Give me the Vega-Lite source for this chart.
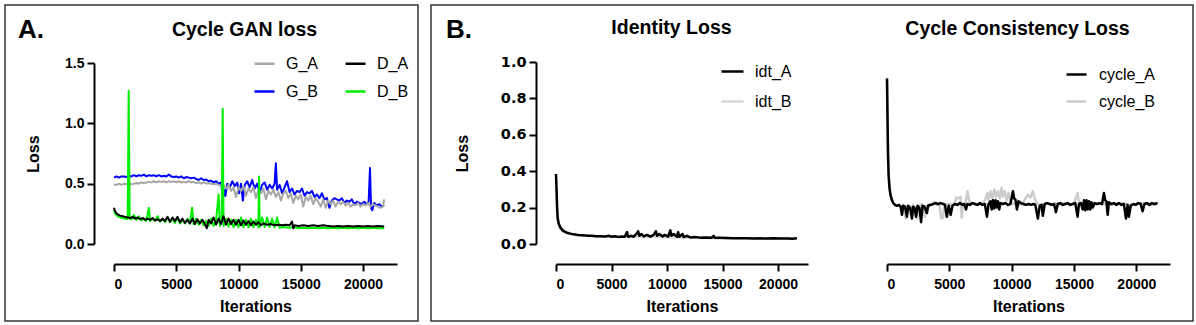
{
"$schema": "https://vega.github.io/schema/vega-lite/v6.json",
"padding": {"left": 4, "top": 4, "right": 0, "bottom": 0},
"autosize": {"type": "pad"},
"background": "white",
"spacing": 13,
"bounds": "flush",
"config": {
  "font": "Liberation Sans",
  "view": {"stroke": "#333333", "strokeWidth": 1.5},
  "axis": {"grid": false, "domainColor": "black", "domainWidth": 2, "tickColor": "black", "tickWidth": 2, "tickSize": 7,
           "labelFont": "Liberation Sans", "labelFontSize": 14, "labelFontWeight": "bold", "labelColor": "black",
           "titleFont": "Liberation Sans", "titleFontSize": 16, "titleFontWeight": "bold", "titleColor": "black"},
  "axisX": {"labelPadding": 6, "titlePadding": 7},
  "axisY": {"labelPadding": 3, "titlePadding": 23},
  "legend": {"labelFont": "Liberation Sans", "labelFontSize": 16, "labelColor": "black", "symbolType": "stroke", "symbolStrokeWidth": 2.5, "padding": 0},
  "title": {"font": "Liberation Sans", "fontWeight": "bold", "color": "black"}
},
"datasets": {
"gan": [
{"s":"G_B","it":0,"loss":0.55},{"s":"G_B","it":200,"loss":0.56},{"s":"G_B","it":400,"loss":0.55},{"s":"G_B","it":600,"loss":0.56},{"s":"G_B","it":800,"loss":0.56},{"s":"G_B","it":1000,"loss":0.555},{"s":"G_B","it":1200,"loss":0.565},{"s":"G_B","it":1400,"loss":0.56},{"s":"G_B","it":1600,"loss":0.57},{"s":"G_B","it":1800,"loss":0.56},{"s":"G_B","it":2000,"loss":0.57},{"s":"G_B","it":2200,"loss":0.565},{"s":"G_B","it":2400,"loss":0.575},{"s":"G_B","it":2600,"loss":0.56},{"s":"G_B","it":2800,"loss":0.57},{"s":"G_B","it":3000,"loss":0.565},{"s":"G_B","it":3200,"loss":0.57},{"s":"G_B","it":3400,"loss":0.56},{"s":"G_B","it":3600,"loss":0.57},{"s":"G_B","it":3800,"loss":0.56},{"s":"G_B","it":4000,"loss":0.565},{"s":"G_B","it":4200,"loss":0.56},{"s":"G_B","it":4400,"loss":0.575},{"s":"G_B","it":4600,"loss":0.56},{"s":"G_B","it":4800,"loss":0.555},{"s":"G_B","it":5000,"loss":0.56},{"s":"G_B","it":5200,"loss":0.55},{"s":"G_B","it":5400,"loss":0.56},{"s":"G_B","it":5600,"loss":0.545},{"s":"G_B","it":5800,"loss":0.555},{"s":"G_B","it":6000,"loss":0.55},{"s":"G_B","it":6200,"loss":0.545},{"s":"G_B","it":6400,"loss":0.55},{"s":"G_B","it":6600,"loss":0.54},{"s":"G_B","it":6800,"loss":0.53},{"s":"G_B","it":7000,"loss":0.545},{"s":"G_B","it":7200,"loss":0.53},{"s":"G_B","it":7400,"loss":0.535},{"s":"G_B","it":7600,"loss":0.52},{"s":"G_B","it":7800,"loss":0.525},{"s":"G_B","it":8000,"loss":0.51},{"s":"G_B","it":8200,"loss":0.52},{"s":"G_B","it":8400,"loss":0.5},{"s":"G_B","it":8600,"loss":0.51},{"s":"G_B","it":8750,"loss":0.37},{"s":"G_B","it":8850,"loss":0.45},{"s":"G_B","it":8950,"loss":0.4},{"s":"G_B","it":9100,"loss":0.5},{"s":"G_B","it":9300,"loss":0.47},{"s":"G_B","it":9500,"loss":0.52},{"s":"G_B","it":9700,"loss":0.48},{"s":"G_B","it":9900,"loss":0.51},{"s":"G_B","it":10050,"loss":0.42},{"s":"G_B","it":10200,"loss":0.5},{"s":"G_B","it":10350,"loss":0.36},{"s":"G_B","it":10500,"loss":0.49},{"s":"G_B","it":10700,"loss":0.52},{"s":"G_B","it":10900,"loss":0.47},{"s":"G_B","it":11100,"loss":0.53},{"s":"G_B","it":11300,"loss":0.46},{"s":"G_B","it":11500,"loss":0.5},{"s":"G_B","it":11700,"loss":0.43},{"s":"G_B","it":11900,"loss":0.49},{"s":"G_B","it":12100,"loss":0.51},{"s":"G_B","it":12300,"loss":0.45},{"s":"G_B","it":12500,"loss":0.49},{"s":"G_B","it":12700,"loss":0.46},{"s":"G_B","it":12900,"loss":0.5},{"s":"G_B","it":13000,"loss":0.67},{"s":"G_B","it":13100,"loss":0.45},{"s":"G_B","it":13300,"loss":0.49},{"s":"G_B","it":13500,"loss":0.42},{"s":"G_B","it":13700,"loss":0.47},{"s":"G_B","it":13900,"loss":0.52},{"s":"G_B","it":14100,"loss":0.43},{"s":"G_B","it":14300,"loss":0.46},{"s":"G_B","it":14500,"loss":0.41},{"s":"G_B","it":14700,"loss":0.44},{"s":"G_B","it":14900,"loss":0.43},{"s":"G_B","it":15100,"loss":0.46},{"s":"G_B","it":15300,"loss":0.4},{"s":"G_B","it":15500,"loss":0.43},{"s":"G_B","it":15700,"loss":0.42},{"s":"G_B","it":15900,"loss":0.44},{"s":"G_B","it":16100,"loss":0.39},{"s":"G_B","it":16300,"loss":0.41},{"s":"G_B","it":16500,"loss":0.38},{"s":"G_B","it":16700,"loss":0.42},{"s":"G_B","it":16900,"loss":0.37},{"s":"G_B","it":17100,"loss":0.38},{"s":"G_B","it":17300,"loss":0.3},{"s":"G_B","it":17500,"loss":0.36},{"s":"G_B","it":17700,"loss":0.38},{"s":"G_B","it":17900,"loss":0.37},{"s":"G_B","it":18100,"loss":0.36},{"s":"G_B","it":18300,"loss":0.38},{"s":"G_B","it":18500,"loss":0.34},{"s":"G_B","it":18700,"loss":0.36},{"s":"G_B","it":18900,"loss":0.35},{"s":"G_B","it":19100,"loss":0.37},{"s":"G_B","it":19300,"loss":0.33},{"s":"G_B","it":19500,"loss":0.35},{"s":"G_B","it":19700,"loss":0.34},{"s":"G_B","it":19900,"loss":0.33},{"s":"G_B","it":20100,"loss":0.35},{"s":"G_B","it":20300,"loss":0.33},{"s":"G_B","it":20450,"loss":0.35},{"s":"G_B","it":20560,"loss":0.63},{"s":"G_B","it":20650,"loss":0.3},{"s":"G_B","it":20750,"loss":0.28},{"s":"G_B","it":20900,"loss":0.34},{"s":"G_B","it":21100,"loss":0.32},{"s":"G_B","it":21300,"loss":0.33},{"s":"G_B","it":21500,"loss":0.31},{"s":"G_B","it":21700,"loss":0.32},
{"s":"G_A","it":0,"loss":0.49},{"s":"G_A","it":200,"loss":0.49},{"s":"G_A","it":400,"loss":0.5},{"s":"G_A","it":600,"loss":0.49},{"s":"G_A","it":800,"loss":0.5},{"s":"G_A","it":1000,"loss":0.495},{"s":"G_A","it":1200,"loss":0.5},{"s":"G_A","it":1400,"loss":0.495},{"s":"G_A","it":1600,"loss":0.5},{"s":"G_A","it":1800,"loss":0.505},{"s":"G_A","it":2000,"loss":0.5},{"s":"G_A","it":2200,"loss":0.51},{"s":"G_A","it":2400,"loss":0.505},{"s":"G_A","it":2600,"loss":0.51},{"s":"G_A","it":2800,"loss":0.515},{"s":"G_A","it":3000,"loss":0.51},{"s":"G_A","it":3200,"loss":0.52},{"s":"G_A","it":3400,"loss":0.51},{"s":"G_A","it":3600,"loss":0.52},{"s":"G_A","it":3800,"loss":0.515},{"s":"G_A","it":4000,"loss":0.52},{"s":"G_A","it":4200,"loss":0.51},{"s":"G_A","it":4400,"loss":0.52},{"s":"G_A","it":4600,"loss":0.515},{"s":"G_A","it":4800,"loss":0.52},{"s":"G_A","it":5000,"loss":0.51},{"s":"G_A","it":5200,"loss":0.52},{"s":"G_A","it":5400,"loss":0.51},{"s":"G_A","it":5600,"loss":0.515},{"s":"G_A","it":5800,"loss":0.51},{"s":"G_A","it":6000,"loss":0.52},{"s":"G_A","it":6200,"loss":0.51},{"s":"G_A","it":6400,"loss":0.515},{"s":"G_A","it":6600,"loss":0.505},{"s":"G_A","it":6800,"loss":0.51},{"s":"G_A","it":7000,"loss":0.5},{"s":"G_A","it":7200,"loss":0.51},{"s":"G_A","it":7400,"loss":0.5},{"s":"G_A","it":7600,"loss":0.505},{"s":"G_A","it":7800,"loss":0.5},{"s":"G_A","it":8000,"loss":0.495},{"s":"G_A","it":8200,"loss":0.5},{"s":"G_A","it":8400,"loss":0.49},{"s":"G_A","it":8600,"loss":0.48},{"s":"G_A","it":8800,"loss":0.49},{"s":"G_A","it":9000,"loss":0.46},{"s":"G_A","it":9200,"loss":0.49},{"s":"G_A","it":9400,"loss":0.44},{"s":"G_A","it":9600,"loss":0.47},{"s":"G_A","it":9800,"loss":0.39},{"s":"G_A","it":10000,"loss":0.47},{"s":"G_A","it":10200,"loss":0.44},{"s":"G_A","it":10400,"loss":0.48},{"s":"G_A","it":10600,"loss":0.4},{"s":"G_A","it":10800,"loss":0.46},{"s":"G_A","it":11000,"loss":0.43},{"s":"G_A","it":11200,"loss":0.47},{"s":"G_A","it":11400,"loss":0.38},{"s":"G_A","it":11600,"loss":0.45},{"s":"G_A","it":11800,"loss":0.42},{"s":"G_A","it":12000,"loss":0.46},{"s":"G_A","it":12200,"loss":0.37},{"s":"G_A","it":12400,"loss":0.44},{"s":"G_A","it":12600,"loss":0.41},{"s":"G_A","it":12800,"loss":0.45},{"s":"G_A","it":13000,"loss":0.39},{"s":"G_A","it":13200,"loss":0.43},{"s":"G_A","it":13400,"loss":0.36},{"s":"G_A","it":13600,"loss":0.42},{"s":"G_A","it":13800,"loss":0.44},{"s":"G_A","it":14000,"loss":0.38},{"s":"G_A","it":14200,"loss":0.42},{"s":"G_A","it":14400,"loss":0.34},{"s":"G_A","it":14600,"loss":0.4},{"s":"G_A","it":14800,"loss":0.37},{"s":"G_A","it":15000,"loss":0.41},{"s":"G_A","it":15200,"loss":0.31},{"s":"G_A","it":15400,"loss":0.39},{"s":"G_A","it":15600,"loss":0.36},{"s":"G_A","it":15800,"loss":0.4},{"s":"G_A","it":16000,"loss":0.33},{"s":"G_A","it":16200,"loss":0.38},{"s":"G_A","it":16400,"loss":0.35},{"s":"G_A","it":16600,"loss":0.31},{"s":"G_A","it":16800,"loss":0.37},{"s":"G_A","it":17000,"loss":0.3},{"s":"G_A","it":17200,"loss":0.36},{"s":"G_A","it":17400,"loss":0.33},{"s":"G_A","it":17600,"loss":0.36},{"s":"G_A","it":17800,"loss":0.31},{"s":"G_A","it":18000,"loss":0.35},{"s":"G_A","it":18200,"loss":0.33},{"s":"G_A","it":18400,"loss":0.35},{"s":"G_A","it":18600,"loss":0.32},{"s":"G_A","it":18800,"loss":0.34},{"s":"G_A","it":19000,"loss":0.31},{"s":"G_A","it":19200,"loss":0.33},{"s":"G_A","it":19400,"loss":0.32},{"s":"G_A","it":19600,"loss":0.34},{"s":"G_A","it":19800,"loss":0.31},{"s":"G_A","it":20000,"loss":0.33},{"s":"G_A","it":20200,"loss":0.32},{"s":"G_A","it":20400,"loss":0.34},{"s":"G_A","it":20600,"loss":0.31},{"s":"G_A","it":20800,"loss":0.33},{"s":"G_A","it":21000,"loss":0.32},{"s":"G_A","it":21200,"loss":0.31},{"s":"G_A","it":21400,"loss":0.3},{"s":"G_A","it":21600,"loss":0.31},{"s":"G_A","it":21700,"loss":0.37},
{"s":"D_B","it":0,"loss":0.28},{"s":"D_B","it":100,"loss":0.25},{"s":"D_B","it":300,"loss":0.23},{"s":"D_B","it":500,"loss":0.22},{"s":"D_B","it":700,"loss":0.215},{"s":"D_B","it":900,"loss":0.21},{"s":"D_B","it":1100,"loss":0.21},{"s":"D_B","it":1180,"loss":1.27},{"s":"D_B","it":1260,"loss":0.21},{"s":"D_B","it":1400,"loss":0.205},{"s":"D_B","it":1600,"loss":0.24},{"s":"D_B","it":1800,"loss":0.2},{"s":"D_B","it":2000,"loss":0.23},{"s":"D_B","it":2200,"loss":0.195},{"s":"D_B","it":2400,"loss":0.215},{"s":"D_B","it":2600,"loss":0.19},{"s":"D_B","it":2800,"loss":0.3},{"s":"D_B","it":2900,"loss":0.19},{"s":"D_B","it":3100,"loss":0.21},{"s":"D_B","it":3300,"loss":0.19},{"s":"D_B","it":3500,"loss":0.23},{"s":"D_B","it":3700,"loss":0.185},{"s":"D_B","it":3900,"loss":0.21},{"s":"D_B","it":4100,"loss":0.18},{"s":"D_B","it":4300,"loss":0.22},{"s":"D_B","it":4500,"loss":0.18},{"s":"D_B","it":4700,"loss":0.21},{"s":"D_B","it":4900,"loss":0.175},{"s":"D_B","it":5100,"loss":0.22},{"s":"D_B","it":5300,"loss":0.17},{"s":"D_B","it":5500,"loss":0.2},{"s":"D_B","it":5700,"loss":0.17},{"s":"D_B","it":5900,"loss":0.21},{"s":"D_B","it":6100,"loss":0.17},{"s":"D_B","it":6270,"loss":0.3},{"s":"D_B","it":6400,"loss":0.165},{"s":"D_B","it":6600,"loss":0.21},{"s":"D_B","it":6800,"loss":0.16},{"s":"D_B","it":7000,"loss":0.2},{"s":"D_B","it":7200,"loss":0.155},{"s":"D_B","it":7400,"loss":0.19},{"s":"D_B","it":7600,"loss":0.15},{"s":"D_B","it":7800,"loss":0.21},{"s":"D_B","it":8000,"loss":0.15},{"s":"D_B","it":8200,"loss":0.2},{"s":"D_B","it":8400,"loss":0.41},{"s":"D_B","it":8500,"loss":0.15},{"s":"D_B","it":8650,"loss":0.2},{"s":"D_B","it":8730,"loss":1.12},{"s":"D_B","it":8800,"loss":0.15},{"s":"D_B","it":9000,"loss":0.21},{"s":"D_B","it":9200,"loss":0.145},{"s":"D_B","it":9400,"loss":0.2},{"s":"D_B","it":9600,"loss":0.14},{"s":"D_B","it":9800,"loss":0.2},{"s":"D_B","it":10000,"loss":0.14},{"s":"D_B","it":10200,"loss":0.22},{"s":"D_B","it":10400,"loss":0.14},{"s":"D_B","it":10600,"loss":0.2},{"s":"D_B","it":10800,"loss":0.14},{"s":"D_B","it":11000,"loss":0.21},{"s":"D_B","it":11200,"loss":0.14},{"s":"D_B","it":11400,"loss":0.2},{"s":"D_B","it":11600,"loss":0.14},{"s":"D_B","it":11650,"loss":0.56},{"s":"D_B","it":11700,"loss":0.14},{"s":"D_B","it":11900,"loss":0.22},{"s":"D_B","it":12100,"loss":0.14},{"s":"D_B","it":12300,"loss":0.22},{"s":"D_B","it":12500,"loss":0.14},{"s":"D_B","it":12700,"loss":0.21},{"s":"D_B","it":12900,"loss":0.14},{"s":"D_B","it":13100,"loss":0.22},{"s":"D_B","it":13300,"loss":0.135},{"s":"D_B","it":13600,"loss":0.14},{"s":"D_B","it":14000,"loss":0.135},{"s":"D_B","it":14400,"loss":0.14},{"s":"D_B","it":14800,"loss":0.13},{"s":"D_B","it":15200,"loss":0.135},{"s":"D_B","it":15600,"loss":0.13},{"s":"D_B","it":16000,"loss":0.135},{"s":"D_B","it":16400,"loss":0.13},{"s":"D_B","it":16800,"loss":0.135},{"s":"D_B","it":17200,"loss":0.13},{"s":"D_B","it":17600,"loss":0.135},{"s":"D_B","it":18000,"loss":0.13},{"s":"D_B","it":18400,"loss":0.135},{"s":"D_B","it":18800,"loss":0.13},{"s":"D_B","it":19200,"loss":0.135},{"s":"D_B","it":19600,"loss":0.13},{"s":"D_B","it":20000,"loss":0.135},{"s":"D_B","it":20400,"loss":0.13},{"s":"D_B","it":20800,"loss":0.135},{"s":"D_B","it":21200,"loss":0.13},{"s":"D_B","it":21700,"loss":0.13},
{"s":"D_A","it":0,"loss":0.3},{"s":"D_A","it":60,"loss":0.28},{"s":"D_A","it":150,"loss":0.26},{"s":"D_A","it":300,"loss":0.245},{"s":"D_A","it":500,"loss":0.235},{"s":"D_A","it":700,"loss":0.23},{"s":"D_A","it":900,"loss":0.225},{"s":"D_A","it":1100,"loss":0.22},{"s":"D_A","it":1300,"loss":0.215},{"s":"D_A","it":1500,"loss":0.225},{"s":"D_A","it":1700,"loss":0.21},{"s":"D_A","it":1900,"loss":0.22},{"s":"D_A","it":2100,"loss":0.205},{"s":"D_A","it":2300,"loss":0.215},{"s":"D_A","it":2500,"loss":0.2},{"s":"D_A","it":2700,"loss":0.21},{"s":"D_A","it":2900,"loss":0.2},{"s":"D_A","it":3100,"loss":0.215},{"s":"D_A","it":3300,"loss":0.195},{"s":"D_A","it":3500,"loss":0.205},{"s":"D_A","it":3700,"loss":0.19},{"s":"D_A","it":3900,"loss":0.21},{"s":"D_A","it":4100,"loss":0.19},{"s":"D_A","it":4300,"loss":0.225},{"s":"D_A","it":4500,"loss":0.185},{"s":"D_A","it":4700,"loss":0.22},{"s":"D_A","it":4900,"loss":0.19},{"s":"D_A","it":5100,"loss":0.225},{"s":"D_A","it":5300,"loss":0.18},{"s":"D_A","it":5500,"loss":0.21},{"s":"D_A","it":5700,"loss":0.175},{"s":"D_A","it":5900,"loss":0.2},{"s":"D_A","it":6100,"loss":0.17},{"s":"D_A","it":6300,"loss":0.21},{"s":"D_A","it":6500,"loss":0.165},{"s":"D_A","it":6700,"loss":0.205},{"s":"D_A","it":6900,"loss":0.17},{"s":"D_A","it":7100,"loss":0.2},{"s":"D_A","it":7300,"loss":0.165},{"s":"D_A","it":7450,"loss":0.13},{"s":"D_A","it":7600,"loss":0.2},{"s":"D_A","it":7800,"loss":0.17},{"s":"D_A","it":8000,"loss":0.22},{"s":"D_A","it":8200,"loss":0.16},{"s":"D_A","it":8400,"loss":0.21},{"s":"D_A","it":8600,"loss":0.165},{"s":"D_A","it":8800,"loss":0.23},{"s":"D_A","it":9000,"loss":0.16},{"s":"D_A","it":9200,"loss":0.21},{"s":"D_A","it":9400,"loss":0.165},{"s":"D_A","it":9600,"loss":0.2},{"s":"D_A","it":9800,"loss":0.16},{"s":"D_A","it":10000,"loss":0.2},{"s":"D_A","it":10200,"loss":0.155},{"s":"D_A","it":10400,"loss":0.195},{"s":"D_A","it":10600,"loss":0.16},{"s":"D_A","it":10800,"loss":0.19},{"s":"D_A","it":11000,"loss":0.155},{"s":"D_A","it":11200,"loss":0.185},{"s":"D_A","it":11400,"loss":0.16},{"s":"D_A","it":11600,"loss":0.18},{"s":"D_A","it":11800,"loss":0.155},{"s":"D_A","it":12000,"loss":0.17},{"s":"D_A","it":12300,"loss":0.16},{"s":"D_A","it":12600,"loss":0.165},{"s":"D_A","it":12900,"loss":0.155},{"s":"D_A","it":13200,"loss":0.16},{"s":"D_A","it":13500,"loss":0.155},{"s":"D_A","it":13800,"loss":0.16},{"s":"D_A","it":14100,"loss":0.155},{"s":"D_A","it":14300,"loss":0.185},{"s":"D_A","it":14400,"loss":0.13},{"s":"D_A","it":14500,"loss":0.155},{"s":"D_A","it":14800,"loss":0.15},{"s":"D_A","it":15200,"loss":0.155},{"s":"D_A","it":15600,"loss":0.15},{"s":"D_A","it":16000,"loss":0.155},{"s":"D_A","it":16400,"loss":0.15},{"s":"D_A","it":16800,"loss":0.155},{"s":"D_A","it":17200,"loss":0.15},{"s":"D_A","it":17600,"loss":0.145},{"s":"D_A","it":18000,"loss":0.15},{"s":"D_A","it":18400,"loss":0.145},{"s":"D_A","it":18800,"loss":0.15},{"s":"D_A","it":19200,"loss":0.145},{"s":"D_A","it":19600,"loss":0.15},{"s":"D_A","it":20000,"loss":0.145},{"s":"D_A","it":20400,"loss":0.15},{"s":"D_A","it":20800,"loss":0.145},{"s":"D_A","it":21200,"loss":0.15},{"s":"D_A","it":21700,"loss":0.145}
],
"idt": [
{"s":"idt_B","it":0,"loss":0.36},{"s":"idt_B","it":100,"loss":0.18},{"s":"idt_B","it":300,"loss":0.1},{"s":"idt_B","it":600,"loss":0.07},{"s":"idt_B","it":1000,"loss":0.058},{"s":"idt_B","it":2000,"loss":0.047},{"s":"idt_B","it":4000,"loss":0.04},{"s":"idt_B","it":6000,"loss":0.038},{"s":"idt_B","it":8000,"loss":0.04},{"s":"idt_B","it":10000,"loss":0.037},{"s":"idt_B","it":12000,"loss":0.034},{"s":"idt_B","it":14000,"loss":0.032},{"s":"idt_B","it":16000,"loss":0.031},{"s":"idt_B","it":18000,"loss":0.032},{"s":"idt_B","it":20000,"loss":0.031},{"s":"idt_B","it":21700,"loss":0.03},
{"s":"idt_A","it":0,"loss":0.385},{"s":"idt_A","it":50,"loss":0.3},{"s":"idt_A","it":100,"loss":0.2},{"s":"idt_A","it":150,"loss":0.14},{"s":"idt_A","it":250,"loss":0.11},{"s":"idt_A","it":400,"loss":0.09},{"s":"idt_A","it":600,"loss":0.075},{"s":"idt_A","it":800,"loss":0.067},{"s":"idt_A","it":1000,"loss":0.062},{"s":"idt_A","it":1300,"loss":0.057},{"s":"idt_A","it":1600,"loss":0.053},{"s":"idt_A","it":2000,"loss":0.05},{"s":"idt_A","it":2400,"loss":0.048},{"s":"idt_A","it":2800,"loss":0.046},{"s":"idt_A","it":3200,"loss":0.045},{"s":"idt_A","it":3600,"loss":0.043},{"s":"idt_A","it":4000,"loss":0.042},{"s":"idt_A","it":4400,"loss":0.041},{"s":"idt_A","it":4800,"loss":0.045},{"s":"idt_A","it":5000,"loss":0.04},{"s":"idt_A","it":5300,"loss":0.043},{"s":"idt_A","it":5600,"loss":0.039},{"s":"idt_A","it":5900,"loss":0.041},{"s":"idt_A","it":6200,"loss":0.04},{"s":"idt_A","it":6400,"loss":0.065},{"s":"idt_A","it":6500,"loss":0.04},{"s":"idt_A","it":6800,"loss":0.045},{"s":"idt_A","it":7000,"loss":0.04},{"s":"idt_A","it":7300,"loss":0.06},{"s":"idt_A","it":7400,"loss":0.07},{"s":"idt_A","it":7500,"loss":0.045},{"s":"idt_A","it":7700,"loss":0.055},{"s":"idt_A","it":7900,"loss":0.042},{"s":"idt_A","it":8200,"loss":0.05},{"s":"idt_A","it":8500,"loss":0.04},{"s":"idt_A","it":8800,"loss":0.05},{"s":"idt_A","it":9000,"loss":0.07},{"s":"idt_A","it":9100,"loss":0.045},{"s":"idt_A","it":9300,"loss":0.055},{"s":"idt_A","it":9600,"loss":0.042},{"s":"idt_A","it":9800,"loss":0.05},{"s":"idt_A","it":10100,"loss":0.04},{"s":"idt_A","it":10300,"loss":0.075},{"s":"idt_A","it":10400,"loss":0.045},{"s":"idt_A","it":10600,"loss":0.055},{"s":"idt_A","it":10900,"loss":0.04},{"s":"idt_A","it":11000,"loss":0.065},{"s":"idt_A","it":11100,"loss":0.04},{"s":"idt_A","it":11400,"loss":0.055},{"s":"idt_A","it":11500,"loss":0.038},{"s":"idt_A","it":11800,"loss":0.045},{"s":"idt_A","it":12100,"loss":0.036},{"s":"idt_A","it":12500,"loss":0.038},{"s":"idt_A","it":13000,"loss":0.035},{"s":"idt_A","it":13500,"loss":0.036},{"s":"idt_A","it":14000,"loss":0.034},{"s":"idt_A","it":14200,"loss":0.045},{"s":"idt_A","it":14300,"loss":0.034},{"s":"idt_A","it":14800,"loss":0.034},{"s":"idt_A","it":15400,"loss":0.033},{"s":"idt_A","it":16000,"loss":0.032},{"s":"idt_A","it":16600,"loss":0.031},{"s":"idt_A","it":17200,"loss":0.032},{"s":"idt_A","it":17800,"loss":0.03},{"s":"idt_A","it":18400,"loss":0.031},{"s":"idt_A","it":19000,"loss":0.03},{"s":"idt_A","it":19600,"loss":0.031},{"s":"idt_A","it":20200,"loss":0.03},{"s":"idt_A","it":20800,"loss":0.03},{"s":"idt_A","it":21300,"loss":0.029},{"s":"idt_A","it":21700,"loss":0.031}
],
"cyc": [
{"s":"cycle_B","it":0,"loss":0.9},{"s":"cycle_B","it":40,"loss":0.68},{"s":"cycle_B","it":80,"loss":0.48},{"s":"cycle_B","it":130,"loss":0.37},{"s":"cycle_B","it":200,"loss":0.3},{"s":"cycle_B","it":300,"loss":0.26},{"s":"cycle_B","it":400,"loss":0.24},{"s":"cycle_B","it":550,"loss":0.22},{"s":"cycle_B","it":700,"loss":0.21},{"s":"cycle_B","it":900,"loss":0.21},{"s":"cycle_B","it":1100,"loss":0.2},{"s":"cycle_B","it":1300,"loss":0.215},{"s":"cycle_B","it":1500,"loss":0.14},{"s":"cycle_B","it":1650,"loss":0.21},{"s":"cycle_B","it":1900,"loss":0.2},{"s":"cycle_B","it":2100,"loss":0.215},{"s":"cycle_B","it":2400,"loss":0.14},{"s":"cycle_B","it":2550,"loss":0.21},{"s":"cycle_B","it":2800,"loss":0.22},{"s":"cycle_B","it":3050,"loss":0.15},{"s":"cycle_B","it":3200,"loss":0.21},{"s":"cycle_B","it":3400,"loss":0.22},{"s":"cycle_B","it":3600,"loss":0.215},{"s":"cycle_B","it":3800,"loss":0.23},{"s":"cycle_B","it":4000,"loss":0.215},{"s":"cycle_B","it":4200,"loss":0.22},{"s":"cycle_B","it":4350,"loss":0.14},{"s":"cycle_B","it":4500,"loss":0.145},{"s":"cycle_B","it":4600,"loss":0.22},{"s":"cycle_B","it":4800,"loss":0.215},{"s":"cycle_B","it":5000,"loss":0.22},{"s":"cycle_B","it":5200,"loss":0.215},{"s":"cycle_B","it":5400,"loss":0.22},{"s":"cycle_B","it":5550,"loss":0.255},{"s":"cycle_B","it":5700,"loss":0.25},{"s":"cycle_B","it":5900,"loss":0.26},{"s":"cycle_B","it":6000,"loss":0.145},{"s":"cycle_B","it":6100,"loss":0.22},{"s":"cycle_B","it":6300,"loss":0.225},{"s":"cycle_B","it":6450,"loss":0.29},{"s":"cycle_B","it":6550,"loss":0.25},{"s":"cycle_B","it":6700,"loss":0.22},{"s":"cycle_B","it":6900,"loss":0.225},{"s":"cycle_B","it":7100,"loss":0.22},{"s":"cycle_B","it":7300,"loss":0.215},{"s":"cycle_B","it":7500,"loss":0.22},{"s":"cycle_B","it":7700,"loss":0.225},{"s":"cycle_B","it":7900,"loss":0.25},{"s":"cycle_B","it":8050,"loss":0.28},{"s":"cycle_B","it":8150,"loss":0.24},{"s":"cycle_B","it":8300,"loss":0.29},{"s":"cycle_B","it":8450,"loss":0.25},{"s":"cycle_B","it":8600,"loss":0.3},{"s":"cycle_B","it":8750,"loss":0.26},{"s":"cycle_B","it":8900,"loss":0.29},{"s":"cycle_B","it":9050,"loss":0.25},{"s":"cycle_B","it":9200,"loss":0.31},{"s":"cycle_B","it":9300,"loss":0.26},{"s":"cycle_B","it":9450,"loss":0.29},{"s":"cycle_B","it":9600,"loss":0.24},{"s":"cycle_B","it":9750,"loss":0.28},{"s":"cycle_B","it":9900,"loss":0.23},{"s":"cycle_B","it":10100,"loss":0.22},{"s":"cycle_B","it":10300,"loss":0.225},{"s":"cycle_B","it":10500,"loss":0.22},{"s":"cycle_B","it":10700,"loss":0.215},{"s":"cycle_B","it":10900,"loss":0.22},{"s":"cycle_B","it":11100,"loss":0.25},{"s":"cycle_B","it":11300,"loss":0.27},{"s":"cycle_B","it":11500,"loss":0.255},{"s":"cycle_B","it":11700,"loss":0.29},{"s":"cycle_B","it":11850,"loss":0.25},{"s":"cycle_B","it":12000,"loss":0.225},{"s":"cycle_B","it":12200,"loss":0.22},{"s":"cycle_B","it":12400,"loss":0.215},{"s":"cycle_B","it":12600,"loss":0.22},{"s":"cycle_B","it":12800,"loss":0.225},{"s":"cycle_B","it":13000,"loss":0.22},{"s":"cycle_B","it":13200,"loss":0.215},{"s":"cycle_B","it":13400,"loss":0.22},{"s":"cycle_B","it":13600,"loss":0.225},{"s":"cycle_B","it":13800,"loss":0.215},{"s":"cycle_B","it":14000,"loss":0.22},{"s":"cycle_B","it":14200,"loss":0.225},{"s":"cycle_B","it":14400,"loss":0.22},{"s":"cycle_B","it":14600,"loss":0.215},{"s":"cycle_B","it":14800,"loss":0.22},{"s":"cycle_B","it":15000,"loss":0.225},{"s":"cycle_B","it":15290,"loss":0.28},{"s":"cycle_B","it":15400,"loss":0.225},{"s":"cycle_B","it":15600,"loss":0.22},{"s":"cycle_B","it":15800,"loss":0.215},{"s":"cycle_B","it":16000,"loss":0.22},{"s":"cycle_B","it":16400,"loss":0.215},{"s":"cycle_B","it":16800,"loss":0.22},{"s":"cycle_B","it":17200,"loss":0.225},{"s":"cycle_B","it":17600,"loss":0.22},{"s":"cycle_B","it":18000,"loss":0.215},{"s":"cycle_B","it":18400,"loss":0.22},{"s":"cycle_B","it":18800,"loss":0.225},{"s":"cycle_B","it":19200,"loss":0.22},{"s":"cycle_B","it":19600,"loss":0.215},{"s":"cycle_B","it":20000,"loss":0.22},{"s":"cycle_B","it":20400,"loss":0.225},{"s":"cycle_B","it":20800,"loss":0.22},{"s":"cycle_B","it":21200,"loss":0.215},{"s":"cycle_B","it":21700,"loss":0.22},
{"s":"cycle_A","it":0,"loss":0.91},{"s":"cycle_A","it":40,"loss":0.7},{"s":"cycle_A","it":80,"loss":0.5},{"s":"cycle_A","it":130,"loss":0.38},{"s":"cycle_A","it":200,"loss":0.31},{"s":"cycle_A","it":280,"loss":0.27},{"s":"cycle_A","it":380,"loss":0.245},{"s":"cycle_A","it":500,"loss":0.225},{"s":"cycle_A","it":650,"loss":0.215},{"s":"cycle_A","it":800,"loss":0.21},{"s":"cycle_A","it":950,"loss":0.215},{"s":"cycle_A","it":1100,"loss":0.205},{"s":"cycle_A","it":1200,"loss":0.16},{"s":"cycle_A","it":1300,"loss":0.21},{"s":"cycle_A","it":1450,"loss":0.205},{"s":"cycle_A","it":1600,"loss":0.15},{"s":"cycle_A","it":1700,"loss":0.21},{"s":"cycle_A","it":1850,"loss":0.2},{"s":"cycle_A","it":2000,"loss":0.14},{"s":"cycle_A","it":2100,"loss":0.205},{"s":"cycle_A","it":2200,"loss":0.2},{"s":"cycle_A","it":2330,"loss":0.15},{"s":"cycle_A","it":2450,"loss":0.21},{"s":"cycle_A","it":2600,"loss":0.2},{"s":"cycle_A","it":2730,"loss":0.12},{"s":"cycle_A","it":2850,"loss":0.21},{"s":"cycle_A","it":3000,"loss":0.205},{"s":"cycle_A","it":3200,"loss":0.17},{"s":"cycle_A","it":3300,"loss":0.21},{"s":"cycle_A","it":3500,"loss":0.215},{"s":"cycle_A","it":3700,"loss":0.22},{"s":"cycle_A","it":3900,"loss":0.225},{"s":"cycle_A","it":4100,"loss":0.22},{"s":"cycle_A","it":4300,"loss":0.225},{"s":"cycle_A","it":4500,"loss":0.22},{"s":"cycle_A","it":4650,"loss":0.215},{"s":"cycle_A","it":4800,"loss":0.15},{"s":"cycle_A","it":4950,"loss":0.21},{"s":"cycle_A","it":5110,"loss":0.16},{"s":"cycle_A","it":5250,"loss":0.21},{"s":"cycle_A","it":5450,"loss":0.22},{"s":"cycle_A","it":5650,"loss":0.215},{"s":"cycle_A","it":5850,"loss":0.225},{"s":"cycle_A","it":6050,"loss":0.215},{"s":"cycle_A","it":6200,"loss":0.22},{"s":"cycle_A","it":6340,"loss":0.19},{"s":"cycle_A","it":6450,"loss":0.22},{"s":"cycle_A","it":6650,"loss":0.215},{"s":"cycle_A","it":6850,"loss":0.225},{"s":"cycle_A","it":7050,"loss":0.22},{"s":"cycle_A","it":7250,"loss":0.215},{"s":"cycle_A","it":7450,"loss":0.225},{"s":"cycle_A","it":7650,"loss":0.215},{"s":"cycle_A","it":7850,"loss":0.22},{"s":"cycle_A","it":8020,"loss":0.15},{"s":"cycle_A","it":8150,"loss":0.22},{"s":"cycle_A","it":8300,"loss":0.235},{"s":"cycle_A","it":8400,"loss":0.19},{"s":"cycle_A","it":8500,"loss":0.24},{"s":"cycle_A","it":8600,"loss":0.195},{"s":"cycle_A","it":8700,"loss":0.24},{"s":"cycle_A","it":8800,"loss":0.2},{"s":"cycle_A","it":8900,"loss":0.235},{"s":"cycle_A","it":9000,"loss":0.19},{"s":"cycle_A","it":9100,"loss":0.225},{"s":"cycle_A","it":9300,"loss":0.22},{"s":"cycle_A","it":9500,"loss":0.225},{"s":"cycle_A","it":9700,"loss":0.215},{"s":"cycle_A","it":9900,"loss":0.22},{"s":"cycle_A","it":10100,"loss":0.29},{"s":"cycle_A","it":10200,"loss":0.25},{"s":"cycle_A","it":10300,"loss":0.245},{"s":"cycle_A","it":10420,"loss":0.19},{"s":"cycle_A","it":10550,"loss":0.235},{"s":"cycle_A","it":10750,"loss":0.225},{"s":"cycle_A","it":10950,"loss":0.22},{"s":"cycle_A","it":11150,"loss":0.215},{"s":"cycle_A","it":11350,"loss":0.22},{"s":"cycle_A","it":11550,"loss":0.215},{"s":"cycle_A","it":11750,"loss":0.22},{"s":"cycle_A","it":11900,"loss":0.215},{"s":"cycle_A","it":12100,"loss":0.14},{"s":"cycle_A","it":12250,"loss":0.21},{"s":"cycle_A","it":12400,"loss":0.215},{"s":"cycle_A","it":12500,"loss":0.155},{"s":"cycle_A","it":12650,"loss":0.22},{"s":"cycle_A","it":12850,"loss":0.225},{"s":"cycle_A","it":13050,"loss":0.22},{"s":"cycle_A","it":13250,"loss":0.215},{"s":"cycle_A","it":13400,"loss":0.22},{"s":"cycle_A","it":13550,"loss":0.175},{"s":"cycle_A","it":13700,"loss":0.22},{"s":"cycle_A","it":13900,"loss":0.225},{"s":"cycle_A","it":14100,"loss":0.215},{"s":"cycle_A","it":14300,"loss":0.22},{"s":"cycle_A","it":14500,"loss":0.225},{"s":"cycle_A","it":14700,"loss":0.215},{"s":"cycle_A","it":14900,"loss":0.22},{"s":"cycle_A","it":15100,"loss":0.225},{"s":"cycle_A","it":15290,"loss":0.15},{"s":"cycle_A","it":15400,"loss":0.22},{"s":"cycle_A","it":15550,"loss":0.225},{"s":"cycle_A","it":15700,"loss":0.19},{"s":"cycle_A","it":15800,"loss":0.24},{"s":"cycle_A","it":15900,"loss":0.185},{"s":"cycle_A","it":16000,"loss":0.24},{"s":"cycle_A","it":16100,"loss":0.19},{"s":"cycle_A","it":16200,"loss":0.235},{"s":"cycle_A","it":16300,"loss":0.19},{"s":"cycle_A","it":16400,"loss":0.23},{"s":"cycle_A","it":16500,"loss":0.2},{"s":"cycle_A","it":16650,"loss":0.225},{"s":"cycle_A","it":16850,"loss":0.22},{"s":"cycle_A","it":17050,"loss":0.225},{"s":"cycle_A","it":17250,"loss":0.22},{"s":"cycle_A","it":17400,"loss":0.28},{"s":"cycle_A","it":17500,"loss":0.24},{"s":"cycle_A","it":17600,"loss":0.235},{"s":"cycle_A","it":17700,"loss":0.16},{"s":"cycle_A","it":17800,"loss":0.23},{"s":"cycle_A","it":18000,"loss":0.22},{"s":"cycle_A","it":18200,"loss":0.225},{"s":"cycle_A","it":18400,"loss":0.215},{"s":"cycle_A","it":18600,"loss":0.225},{"s":"cycle_A","it":18800,"loss":0.215},{"s":"cycle_A","it":19000,"loss":0.22},{"s":"cycle_A","it":19170,"loss":0.14},{"s":"cycle_A","it":19300,"loss":0.215},{"s":"cycle_A","it":19400,"loss":0.15},{"s":"cycle_A","it":19550,"loss":0.21},{"s":"cycle_A","it":19750,"loss":0.22},{"s":"cycle_A","it":19950,"loss":0.215},{"s":"cycle_A","it":20150,"loss":0.225},{"s":"cycle_A","it":20350,"loss":0.22},{"s":"cycle_A","it":20500,"loss":0.18},{"s":"cycle_A","it":20650,"loss":0.22},{"s":"cycle_A","it":20850,"loss":0.225},{"s":"cycle_A","it":21050,"loss":0.215},{"s":"cycle_A","it":21250,"loss":0.225},{"s":"cycle_A","it":21450,"loss":0.22},{"s":"cycle_A","it":21700,"loss":0.225}
]
},
"hconcat": [
{
  "width": 413, "height": 316,
  "title": {"text": "A.", "anchor": "start", "frame": "group", "offset": -38, "dx": 13, "fontSize": 26},
  "data": {"name": "gan"},
  "layer": [
    {"mark": {"type": "line", "strokeWidth": 2, "strokeJoin": "round"},
     "encoding": {
       "x": {"field": "it", "type": "quantitative", "scale": {"domain": [0, 22730], "range": [109, 392], "nice": false, "zero": false},
             "axis": {"title": "Iterations", "values": [0, 5000, 10000, 15000, 20000], "format": "d", "offset": -57}},
       "y": {"field": "loss", "type": "quantitative", "scale": {"domain": [0, 1.5], "range": [239, 58], "nice": false},
             "axis": {"title": "Loss", "values": [0, 0.5, 1, 1.5], "format": ".1f", "offset": -89}},
       "color": {"field": "s", "type": "nominal", "sort": null,
                 "scale": {"domain": ["G_A", "G_B", "D_A", "D_B"], "range": ["#a6a6a6", "#0000ff", "#000000", "#00ee00"]},
                 "legend": {"title": null, "orient": "none", "legendX": 248, "legendY": 47, "columns": 2, "columnPadding": 21, "rowPadding": 8, "symbolSize": 400, "labelOffset": 10}}
     }},
    {"mark": {"type": "tick", "opacity": 0},
     "encoding": {
       "x": {"field": "it", "type": "quantitative",
             "axis": {"orient": "top", "title": "Cycle GAN loss", "domain": false, "ticks": false, "labels": false, "titleX": 239, "titleY": 30, "titleBaseline": "alphabetic", "titleFontSize": 19.5}}
     }}
  ],
  "resolve": {"axis": {"x": "independent"}}
},
{
  "width": 762, "height": 316,
  "title": {"text": "B.", "anchor": "start", "frame": "group", "offset": -38, "dx": 15, "fontSize": 26},
  "layer": [
    {"data": {"name": "idt"},
     "layer": [
       {"mark": {"type": "line", "strokeWidth": 2.5, "strokeJoin": "round"},
        "encoding": {
          "x": {"field": "it", "type": "quantitative", "scale": {"domain": [0, 22700], "range": [125, 377], "nice": false, "zero": false},
                "axis": {"title": "Iterations", "values": [0, 5000, 10000, 15000, 20000], "format": "d", "offset": -57}},
          "y": {"field": "loss", "type": "quantitative", "scale": {"domain": [0, 1], "range": [239, 57], "nice": false},
                "axis": {"title": "Loss", "values": [0, 0.2, 0.4, 0.6, 0.8, 1], "format": ".1f", "offset": -105, "titlePadding": 30, "labelFont": "DejaVu Sans", "labelFontSize": 14.5}},
          "color": {"field": "s", "type": "nominal", "sort": null,
                    "scale": {"domain": ["idt_A", "idt_B"], "range": ["#000000", "#d9d9d9"]},
                    "legend": {"title": null, "orient": "none", "legendX": 289, "legendY": 54, "rowPadding": 9, "symbolSize": 484, "labelOffset": 10}}
        }},
       {"mark": {"type": "tick", "opacity": 0},
        "encoding": {
          "x": {"field": "it", "type": "quantitative",
                "axis": {"orient": "top", "title": "Identity Loss", "domain": false, "ticks": false, "labels": false, "titleX": 240, "titleY": 28, "titleBaseline": "alphabetic", "titleFontSize": 19.5}}
        }}
     ],
     "resolve": {"axis": {"x": "independent"}}
    },
    {"data": {"name": "cyc"},
     "layer": [
       {"mark": {"type": "line", "strokeWidth": 2.5, "strokeJoin": "round"},
        "encoding": {
          "x": {"field": "it", "type": "quantitative", "scale": {"domain": [0, 22700], "range": [456, 739], "nice": false, "zero": false},
                "axis": {"title": "Iterations", "values": [0, 5000, 10000, 15000, 20000], "format": "d", "offset": -57}},
          "y": {"field": "loss", "type": "quantitative", "scale": {"domain": [0, 1], "range": [239, 57], "nice": false}, "axis": null},
          "color": {"field": "s", "type": "nominal", "sort": null,
                    "scale": {"domain": ["cycle_A", "cycle_B"], "range": ["#000000", "#cccccc"]},
                    "legend": {"title": null, "orient": "none", "legendX": 634, "legendY": 58, "rowPadding": 7, "symbolSize": 400, "labelOffset": 11}}
        }},
       {"mark": {"type": "tick", "opacity": 0},
        "encoding": {
          "x": {"field": "it", "type": "quantitative",
                "axis": {"orient": "top", "title": "Cycle Consistency Loss", "domain": false, "ticks": false, "labels": false, "titleX": 586, "titleY": 29.5, "titleBaseline": "alphabetic", "titleFontSize": 19.5}}
        }}
     ],
     "resolve": {"axis": {"x": "independent"}}
    }
  ],
  "resolve": {"scale": {"x": "independent", "color": "independent"}, "axis": {"x": "independent", "y": "independent"}, "legend": {"color": "independent"}}
}
]
}
